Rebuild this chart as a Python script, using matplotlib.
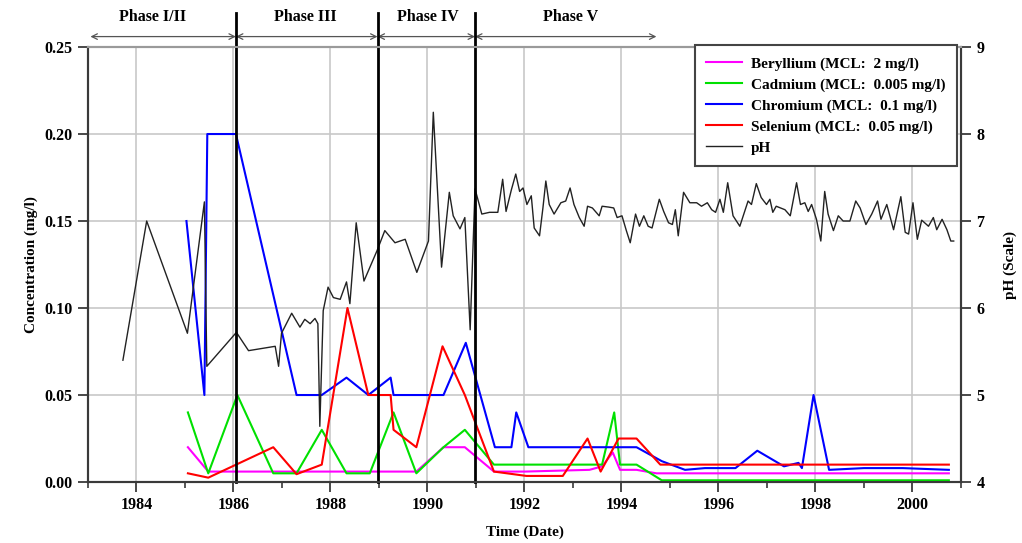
import matplotlib
matplotlib.use("Agg")
import matplotlib.pyplot as plt
from matplotlib.ticker import MultipleLocator, FormatStrFormatter

# values (decimal years)
be_t = [1985.06, 1985.48, 1989.77, 1990.33, 1990.77, 1991.37, 1992.0, 1993.34, 1993.6, 1993.82,
        1993.97, 1994.31, 1994.72, 2000.75]
be_v = [0.02, 0.006, 0.006, 0.02, 0.02, 0.006, 0.006, 0.007, 0.009, 0.017,
        0.007, 0.007, 0.005, 0.005]

cd_t = [1985.06, 1985.48, 1986.08, 1986.82, 1987.3, 1987.82, 1988.33, 1988.81, 1989.3, 1989.77,
        1990.33, 1990.77, 1991.37, 1993.6, 1993.85, 1993.97, 1994.31, 1994.83, 2000.75]
cd_v = [0.04, 0.005, 0.05, 0.005, 0.005, 0.03, 0.005, 0.005, 0.04, 0.005,
        0.02, 0.03, 0.01, 0.01, 0.04, 0.01, 0.01, 0.001, 0.001]

cr_t = [1985.03, 1985.40, 1985.46, 1986.05, 1987.3, 1987.82, 1988.33, 1988.78, 1989.24, 1989.3,
        1990.33, 1990.79, 1991.39, 1991.73, 1991.83, 1992.08, 1994.31, 1994.83, 1995.31, 1995.72,
        1996.35, 1996.8, 1997.35, 1997.65, 1997.72, 1997.96, 1998.28, 1999.0, 1999.8, 2000.75]
cr_v = [0.15, 0.05, 0.2, 0.2, 0.05, 0.05, 0.06, 0.05, 0.06, 0.05,
        0.05, 0.08, 0.02, 0.02, 0.04, 0.02, 0.02, 0.012, 0.007, 0.008,
        0.008, 0.018, 0.009, 0.011, 0.008, 0.05, 0.007, 0.008, 0.008, 0.007]

se_t = [1985.06, 1985.48, 1986.82, 1987.3, 1987.82, 1988.35, 1988.78, 1989.24, 1989.3, 1989.77,
        1990.31, 1990.77, 1991.37, 1992.04, 1992.79, 1993.3, 1993.57, 1993.94, 1994.31, 1994.8,
        2000.75]
se_v = [0.005, 0.0025, 0.02, 0.0045, 0.01, 0.1, 0.05, 0.05, 0.03, 0.02,
        0.078, 0.05, 0.006, 0.0035, 0.0035, 0.025, 0.006, 0.025, 0.025, 0.01,
        0.01]

ph_t = [1983.72, 1984.21, 1985.05, 1985.40, 1985.45, 1986.06, 1986.31, 1986.86, 1986.93, 1986.99,
        1987.20, 1987.37, 1987.47, 1987.58, 1987.68, 1987.74, 1987.78, 1987.85, 1987.95, 1988.06,
        1988.20, 1988.33, 1988.40, 1988.53, 1988.69, 1988.96, 1989.12, 1989.33, 1989.54, 1989.78,
        1990.02, 1990.12, 1990.29, 1990.45, 1990.53, 1990.67, 1990.77, 1990.88, 1990.98, 1991.12,
        1991.28, 1991.45, 1991.55, 1991.62, 1991.73, 1991.82, 1991.90, 1991.97, 1992.05, 1992.14,
        1992.20, 1992.31, 1992.38, 1992.44, 1992.51, 1992.61, 1992.75, 1992.85, 1992.94, 1993.02,
        1993.13, 1993.23, 1993.30, 1993.40, 1993.54, 1993.60, 1993.74, 1993.84, 1993.91, 1994.01,
        1994.10, 1994.18, 1994.29, 1994.37, 1994.46, 1994.55, 1994.63, 1994.78, 1994.87, 1994.97,
        1995.05, 1995.11, 1995.17, 1995.28, 1995.41, 1995.55, 1995.65, 1995.77, 1995.86, 1995.94,
        1996.03, 1996.10, 1996.19, 1996.30, 1996.44, 1996.61, 1996.68, 1996.78, 1996.88, 1996.99,
        1997.06, 1997.12, 1997.19, 1997.37, 1997.48, 1997.61, 1997.69, 1997.78, 1997.85, 1997.92,
        1998.02, 1998.11, 1998.19, 1998.26, 1998.37, 1998.47, 1998.57, 1998.71, 1998.83, 1998.92,
        1999.04, 1999.16, 1999.28, 1999.35, 1999.47, 1999.61, 1999.76, 1999.85, 1999.92, 2000.01,
        2000.10, 2000.19, 2000.33, 2000.43, 2000.50, 2000.61, 2000.71, 2000.79, 2000.85]
ph_v = [5.40, 7.00, 5.71, 7.22, 5.33, 5.72, 5.51, 5.56, 5.33, 5.71,
        5.94, 5.78, 5.87, 5.82, 5.88, 5.82, 4.64, 5.97, 6.24, 6.12,
        6.10, 6.30, 6.05, 6.98, 6.31, 6.66, 6.89, 6.75, 6.79, 6.41,
        6.77, 8.25, 6.47, 7.33, 7.06, 6.91, 7.04, 5.75, 7.37, 7.08,
        7.10, 7.10, 7.48, 7.11, 7.36, 7.54, 7.34, 7.38, 7.19, 7.29,
        6.92, 6.83, 7.15, 7.46, 7.19, 7.08, 7.21, 7.23, 7.38, 7.19,
        7.04, 6.94, 7.17, 7.15, 7.06, 7.17, 7.16, 7.15, 7.04, 7.06,
        6.89, 6.75, 7.08, 6.94, 7.06, 6.94, 6.92, 7.25, 7.11, 6.98,
        6.96, 7.13, 6.83, 7.33, 7.21, 7.21, 7.17, 7.21, 7.13, 7.10,
        7.25, 7.10, 7.44, 7.06, 6.94, 7.23, 7.19, 7.43, 7.27, 7.19,
        7.25, 7.10, 7.17, 7.13, 7.06, 7.44, 7.19, 7.21, 7.11, 7.19,
        7.02, 6.77, 7.34, 7.08, 6.89, 7.06, 7.00, 7.00, 7.23, 7.15,
        6.96, 7.08, 7.23, 7.02, 7.19, 6.90, 7.28, 6.87, 6.85, 7.21,
        6.79, 7.01, 6.94, 7.04, 6.90, 7.02, 6.90, 6.77, 6.77]

phase_bounds = [1986.05, 1988.97, 1990.98]
phase_arrows = [(1983.05, 1986.05), (1986.05, 1988.97), (1988.97, 1990.98), (1990.98, 1994.72)]
phase_names = ["Phase I/II", "Phase III", "Phase IV", "Phase V"]
phase_label_x = [1984.34, 1987.49, 1990.0, 1992.94]

plt.rcParams['font.family'] = ['Liberation Serif', 'DejaVu Serif']
plt.rcParams['font.weight'] = 'bold'
plt.rcParams['axes.labelweight'] = 'bold'

fig = plt.figure(figsize=(10.22, 5.43), dpi=100)
ax = fig.add_axes([0.0861, 0.1123, 0.8542, 0.8011])
ax2 = ax.twinx()

ax.set_xlim(1983, 2001)
ax.set_ylim(0, 0.25)
ax2.set_ylim(4, 9)
ax.xaxis.set_major_locator(MultipleLocator(2))
ax.xaxis.set_minor_locator(MultipleLocator(1))
ax.yaxis.set_major_locator(MultipleLocator(0.05))
ax.yaxis.set_major_formatter(FormatStrFormatter('%.2f'))
ax2.yaxis.set_major_locator(MultipleLocator(1))

ax.grid(True, which='major', color='#c8c8c8', lw=1.2)
ax.set_axisbelow(True)

spine_c = '#3a3a3a'
for a in (ax, ax2):
    for s in a.spines.values():
        s.set_color(spine_c)
        s.set_linewidth(1.5)
    a.spines['top'].set_color('#9a9a9a')
ax.tick_params(axis='both', which='major', direction='out', length=7, width=1.3,
               color=spine_c, labelsize=11.5, pad=4)
ax.tick_params(axis='x', which='minor', direction='out', length=4, width=1.2, color=spine_c)
ax2.tick_params(axis='y', which='major', direction='out', length=7, width=1.3,
                color=spine_c, labelsize=11.5, pad=4)

l1, = ax2.plot(be_t, [4 + v * 20 for v in be_v], color='#ff00ff', lw=1.5)
l2, = ax2.plot(cd_t, [4 + v * 20 for v in cd_v], color='#00e000', lw=1.5)
l3, = ax2.plot(cr_t, [4 + v * 20 for v in cr_v], color='#0000ff', lw=1.5)
l4, = ax2.plot(se_t, [4 + v * 20 for v in se_v], color='#ff0000', lw=1.5)
l5, = ax2.plot(ph_t, ph_v, color='#222222', lw=1.0)

for b in phase_bounds:
    ax2.axvline(b, ymin=0, ymax=1.078, color='black', lw=2.0, clip_on=False)
for (x0, x1) in phase_arrows:
    ax.annotate('', xy=(x1, 1.024), xytext=(x0, 1.024), xycoords=('data', 'axes fraction'),
                arrowprops=dict(arrowstyle='<->', lw=0.9, color='#555555',
                                shrinkA=0, shrinkB=0))
for name, x in zip(phase_names, phase_label_x):
    ax.text(x, 1.069, name, transform=ax.get_xaxis_transform(), ha='center', va='center',
            fontsize=11.5, fontweight='bold')

ax.set_xlabel('Time (Date)', fontsize=11, labelpad=9)
ax.set_ylabel('Concentration (mg/l)', fontsize=11, labelpad=5)
ax2.set_ylabel('pH (Scale)', fontsize=11, labelpad=14)

leg = ax2.legend([l1, l2, l3, l4, l5],
                 ['Beryllium (MCL:  2 mg/l)', 'Cadmium (MCL:  0.005 mg/l)',
                  'Chromium (MCL:  0.1 mg/l)', 'Selenium (MCL:  0.05 mg/l)', 'pH'],
                 loc='upper right', bbox_to_anchor=(0.9955, 1.004), borderaxespad=0,
                 fontsize=11, fancybox=False, framealpha=1, edgecolor='#444444',
                 handlelength=2.35, handletextpad=0.6, labelspacing=0.47, borderpad=0.75)
leg.get_frame().set_linewidth(1.5)

fig.savefig('out.png', dpi=100)
